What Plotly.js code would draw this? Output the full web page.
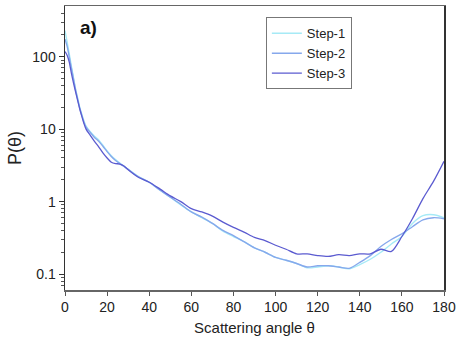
<!DOCTYPE html>
<html>
<head>
<meta charset="utf-8">
<script src="https://cdn.plot.ly/plotly-3.0.1.min.js"></script>
<style>html,body{margin:0;padding:0;background:#fff;}#chart{width:458px;height:341px;}</style>
</head>
<body>
<div id="chart"></div>
<script>
const theta = [0,1,2,3,4,5,6,7,8,9,10,12,14,16,18,20,22,24,26,28,30,35,40,45,50,55,60,65,70,75,80,85,90,95,100,105,110,115,120,125,130,135,140,145,150,155,160,165,170,175,180];
const step1 = [230,160,110,75,52,36,27,20,16,13,11,9.2,8.0,7.1,6.0,5.0,4.3,3.8,3.4,3.1,2.8,2.2,1.85,1.45,1.15,0.9,0.72,0.6,0.5,0.39,0.33,0.28,0.23,0.2,0.17,0.155,0.14,0.122,0.125,0.13,0.125,0.118,0.135,0.16,0.2,0.26,0.33,0.5,0.64,0.66,0.6];
const step2 = [175,140,100,70,50,35,26,19.5,15.5,12.5,10.7,9.0,7.7,6.8,5.8,4.9,4.2,3.7,3.35,3.05,2.78,2.2,1.85,1.45,1.15,0.92,0.72,0.61,0.5,0.4,0.34,0.28,0.23,0.2,0.17,0.155,0.14,0.125,0.13,0.13,0.125,0.12,0.145,0.18,0.24,0.3,0.36,0.45,0.56,0.6,0.58];
const step3 = [118,105,85,60,44,33,25,19,15,12,10,8.2,6.8,5.7,4.7,4.0,3.5,3.35,3.3,3.1,2.75,2.15,1.85,1.5,1.2,1.0,0.8,0.72,0.63,0.52,0.44,0.38,0.32,0.29,0.25,0.22,0.19,0.19,0.18,0.175,0.185,0.18,0.19,0.19,0.22,0.205,0.33,0.58,1.1,1.9,3.6];
const names = ['Step-1','Step-2','Step-3'];
const colors = ['#a6eaf6','#86a8ec','#5b5bd0'];
const yTicks = [0.1,1,10,100];
const yTickText = ['0.1','1','10','100'];

const series = [step1, step2, step3];
const traces = series.map((s,i)=>({
  x: theta, y: s, name: names[i], type:'scatter', mode:'lines',
  line:{color:colors[i], width: i===2?1.3:1.4, shape:'spline', smoothing:0.8}
}));

const layout = {
  width:458, height:341,
  margin:{l:65, r:14, t:6, b:51},
  paper_bgcolor:'#fff', plot_bgcolor:'#fff',
  font:{family:'Liberation Sans, Arial, sans-serif', size:14, color:'#222'},
  showlegend:true,
  legend:{x:0.53, y:0.96, xanchor:'left', yanchor:'top', bordercolor:'#777', borderwidth:1, bgcolor:'#fff',
    font:{size:13, color:'#222'}, tracegroupgap:0, itemwidth:30},
  xaxis:{range:[0,180], dtick:20, tick0:0, ticks:'outside', ticklen:4, tickcolor:'#555',
    showline:true, linecolor:'#666', linewidth:1.5, mirror:true, showgrid:false, zeroline:false,
    title:{text:'Scattering angle θ', font:{size:15}, standoff:8}},
  yaxis:{type:'log', range:[-1.22,2.70], tickvals:yTicks, ticktext:yTickText, ticks:'outside', ticklen:5, tickcolor:'#333',
    minor:{ticks:'outside', ticklen:3, tickcolor:'#555', tickvals:[0.07,0.08,0.09,0.2,0.3,0.4,0.5,0.6,0.7,0.8,0.9,2,3,4,5,6,7,8,9,20,30,40,50,60,70,80,90,200,300,400]},
    showline:true, linecolor:'#333', linewidth:1.5, mirror:true, showgrid:false, zeroline:false,
    title:{text:'P(θ)', font:{size:18}, standoff:6}},
  annotations:[{text:'<b>a)</b>', xref:'paper', yref:'paper', x:0.035, y:0.97, xanchor:'left', yanchor:'top', showarrow:false, font:{size:19, color:'#111'}}]
};
Plotly.newPlot('chart', traces, layout, {staticPlot:true, displayModeBar:false});
</script>
</body>
</html>
